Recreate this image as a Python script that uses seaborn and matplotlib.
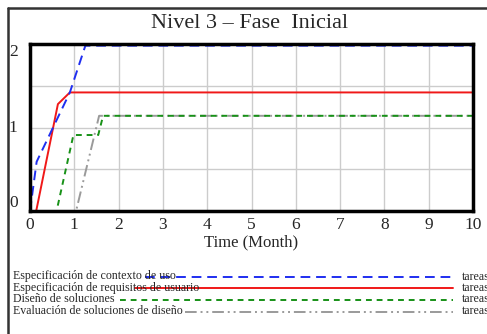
import numpy as np
import pandas as pd
import matplotlib
matplotlib.use("Agg")
import matplotlib.pyplot as plt
from matplotlib.lines import Line2D
import seaborn as sns

sns.set_style("white")
plt.rcParams['font.family'] = ['Liberation Serif', 'DejaVu Serif']

# series (Time in months, tareas)
names = ["Especificación de contexto de uso",
         "Especificación de requisitos de usuario",
         "Diseño de soluciones",
         "Evaluación de soluciones de diseño"]
t_ctx = [0, 0.15, 0.9, 1.25, 10]
v_ctx = [0, 0.59, 1.42, 1.98, 1.98]
t_req = [0, 0.14, 0.63, 0.9, 10]
v_req = [0, 0, 1.28, 1.42, 1.42]
t_dis = [0, 0.6, 0.98, 1.54, 1.65, 10]
v_dis = [0, 0, 0.91, 0.91, 1.14, 1.14]
t_eva = [0, 1.04, 1.56, 10]
v_eva = [0, 0, 1.14, 1.14]
unit = "tareas"

colors = {names[0]: "#1f2ef0", names[1]: "#f01818",
          names[2]: "#179117", names[3]: "#9a9a9a"}
dashes = {names[0]: (5, 3), names[1]: "", names[2]: (3, 2.5),
          names[3]: (6, 2, 1, 2, 1, 2)}

df = pd.concat([
    pd.DataFrame({"t": t_eva, "v": v_eva, "serie": names[3]}),
    pd.DataFrame({"t": t_dis, "v": v_dis, "serie": names[2]}),
    pd.DataFrame({"t": t_req, "v": v_req, "serie": names[1]}),
    pd.DataFrame({"t": t_ctx, "v": v_ctx, "serie": names[0]}),
])

fig = plt.figure(figsize=(4.87, 3.34), dpi=100)
W, H = 487, 334
ax = fig.add_axes([30 / W, 1 - 211 / H, 443 / W, 167 / H])

sns.lineplot(data=df, x="t", y="v", hue="serie", style="serie",
             palette=colors, dashes=dashes, estimator=None, sort=False,
             legend=False, linewidth=1.4, ax=ax)

ax.set_xlim(0, 10)
ax.set_ylim(0, 2)
ax.set_xticks(range(0, 11))
ax.set_yticks([0, 1, 2])
ax.set_yticks([0.5, 1.5], minor=True)
ax.grid(True, which="both", color="#cccccc", linewidth=1)
ax.set_axisbelow(True)
for s in ax.spines.values():
    s.set_color("black")
    s.set_linewidth(2.5)
ax.tick_params(axis="x", length=0, pad=4, labelsize=12.5)
ax.tick_params(axis="y", which="both", length=3, pad=6, labelsize=12.5)
for lab, va in zip(ax.get_yticklabels(), ["bottom", "center", "top"]):
    lab.set_va(va)
ax.set_xlabel("Time (Month)", fontsize=12, labelpad=1)
ax.set_ylabel("")

fig.text(250 / W, 1 - 23 / H, "Nivel 3 \u2013 Fase  Inicial", fontsize=16,
         ha="center", va="center")

# outer frame (left and top edges)
fig.add_artist(Line2D([8 / W, 8 / W], [0, 1 - 8 / H], color="#333333", lw=1.8))
fig.add_artist(Line2D([8 / W, 1], [1 - 8 / H, 1 - 8 / H], color="#333333", lw=1.8))

# legend at the bottom
leg_y = [276.5, 288, 299.5, 311.5]
leg_x0 = [145, 135, 120, 185]
for name, y, x0 in zip(names, leg_y, leg_x0):
    fig.text(13 / W, 1 - y / H, name, fontsize=8.6, ha="left", va="center")
    ln = Line2D([x0 / W, 453 / W], [1 - y / H, 1 - y / H],
                color=colors[name], lw=1.4)
    if dashes[name]:
        ln.set_dashes(dashes[name])
    fig.add_artist(ln)
    fig.text(462 / W, 1 - y / H, unit, fontsize=8.6, ha="left", va="center")

fig.savefig("out.png", dpi=100)
